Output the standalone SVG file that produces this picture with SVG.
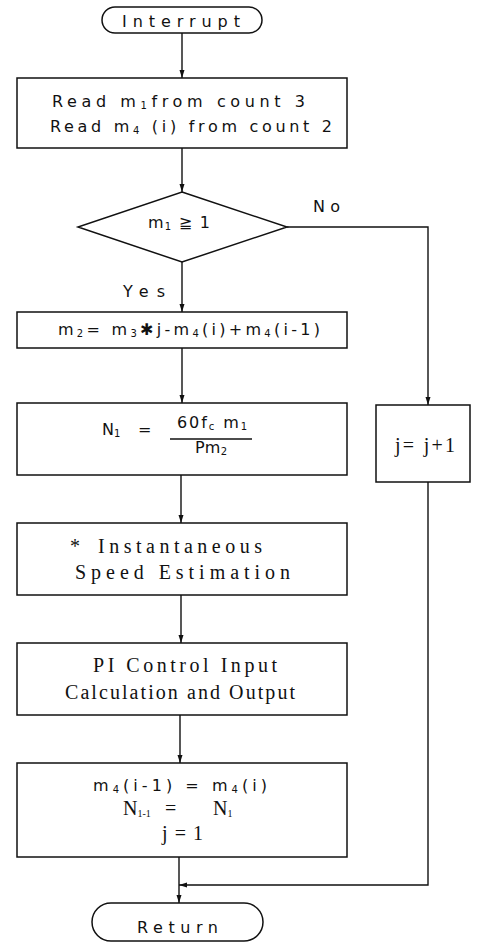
<svg xmlns="http://www.w3.org/2000/svg" width="477" height="944" viewBox="0 0 477 944">
<defs>
<marker id="ah" markerUnits="userSpaceOnUse" markerWidth="8" markerHeight="6" refX="8" refY="3" orient="auto">
<path d="M0,0.5 L8,3 L0,5.5 z" fill="#111"/>
</marker>
<style>
.shape{fill:#fff;stroke:#111;stroke-width:1.5}
.conn{fill:none;stroke:#111;stroke-width:1.4}
.cad{font-family:"DejaVu Sans",sans-serif;font-size:16px;fill:#111}
.ser{font-family:"Liberation Serif",serif;font-size:20px;fill:#111}
</style>
</defs>
<rect width="477" height="944" fill="#fff"/>
<g id="connectors">
<path class="conn" d="M182,33 V78" marker-end="url(#ah)"/>
<path class="conn" d="M182,148 V192" marker-end="url(#ah)"/>
<path class="conn" d="M182,262 V312" marker-end="url(#ah)"/>
<path class="conn" d="M182,348 V403" marker-end="url(#ah)"/>
<path class="conn" d="M181,475 V523" marker-end="url(#ah)"/>
<path class="conn" d="M181,595 V643" marker-end="url(#ah)"/>
<path class="conn" d="M180,715 V763" marker-end="url(#ah)"/>
<path class="conn" d="M179,857 V903" marker-end="url(#ah)"/>
<path class="conn" d="M287,227 H428 V405" marker-end="url(#ah)"/>
<path class="conn" d="M428,482 V885 H179" marker-end="url(#ah)"/>
<text class="cad" x="123" y="297" textLength="42">Yes</text>
<text class="cad" x="313" y="212" textLength="27">No</text>
</g>
<g id="interrupt">
<rect class="shape" x="102" y="7" width="160" height="26" rx="13"/>
<text class="cad" x="122" y="27" font-size="17" textLength="118">Interrupt</text>
</g>
<g id="read">
<rect class="shape" x="17" y="78" width="330" height="70"/>
<text class="cad" x="52" y="107" textLength="253">Read m<tspan font-size="10" dy="2">1</tspan><tspan dy="-2">from count 3</tspan></text>
<text class="cad" x="50" y="132" textLength="282">Read m<tspan font-size="10" dy="2">4</tspan><tspan dy="-2"> (i) from count 2</tspan></text>
</g>
<g id="decision">
<polygon class="shape" points="182,192 287,227 182,262 78,227"/>
<text class="cad" x="148" y="228" textLength="62">m<tspan font-size="10" dy="2">1</tspan><tspan dy="-2"> ≧ 1</tspan></text>
</g>
<g id="m2box">
<rect class="shape" x="17" y="312" width="330" height="36"/>
<text class="cad" x="58" y="335" textLength="262">m<tspan font-size="10" dy="2">2</tspan><tspan dy="-2">= m</tspan><tspan font-size="10" dy="2">3</tspan><tspan dy="-2">✱j-m</tspan><tspan font-size="10" dy="2">4</tspan><tspan dy="-2">(i)+m</tspan><tspan font-size="10" dy="2">4</tspan><tspan dy="-2">(i-1)</tspan></text>
</g>
<g id="n1box">
<rect class="shape" x="17" y="403" width="330" height="72"/>
<text class="cad" x="102" y="435">N<tspan font-size="10" dy="2">1</tspan></text>
<text class="cad" x="138" y="435" textLength="10">=</text>
<text class="cad" x="177" y="428" textLength="70">60f<tspan font-size="10" dy="2">c</tspan><tspan dy="-2"> m</tspan><tspan font-size="10" dy="2">1</tspan></text>
<line class="conn" x1="170" y1="439" x2="252" y2="439"/>
<text class="cad" x="195" y="453" textLength="32">Pm<tspan font-size="10" dy="2">2</tspan></text>
</g>
<g id="speed">
<rect class="shape" x="17" y="523" width="330" height="72"/>
<text class="ser" x="70" y="553">*</text>
<text class="ser" x="98" y="553" textLength="164">Instantaneous</text>
<text class="ser" x="75" y="579" textLength="215">Speed Estimation</text>
</g>
<g id="pi">
<rect class="shape" x="17" y="643" width="330" height="72"/>
<text class="ser" x="93" y="672" textLength="184">PI Control Input</text>
<text class="ser" x="65" y="699" textLength="230">Calculation and Output</text>
</g>
<g id="update">
<rect class="shape" x="17" y="763" width="330" height="94"/>
<text class="cad" x="93" y="791" textLength="174">m<tspan font-size="10" dy="2">4</tspan><tspan dy="-2">(i-1)  =  m</tspan><tspan font-size="10" dy="2">4</tspan><tspan dy="-2">(i)</tspan></text>
<text class="ser" x="123" y="815" font-size="17">N<tspan font-size="10" dy="2">1-1</tspan><tspan dy="-2" x="165">=</tspan><tspan x="213">N</tspan><tspan font-size="10" dy="2">1</tspan></text>
<text class="ser" x="162" y="840" font-size="17" textLength="41">j = 1</text>
</g>
<g id="jbox">
<rect class="shape" x="376" y="405" width="94" height="77"/>
<text class="ser" x="395" y="452" font-size="18" textLength="60">j= j+1</text>
</g>
<g id="return">
<rect class="shape" x="92" y="903" width="171" height="38" rx="19"/>
<text class="cad" x="137" y="933" textLength="81">Return</text>
</g>
</svg>
